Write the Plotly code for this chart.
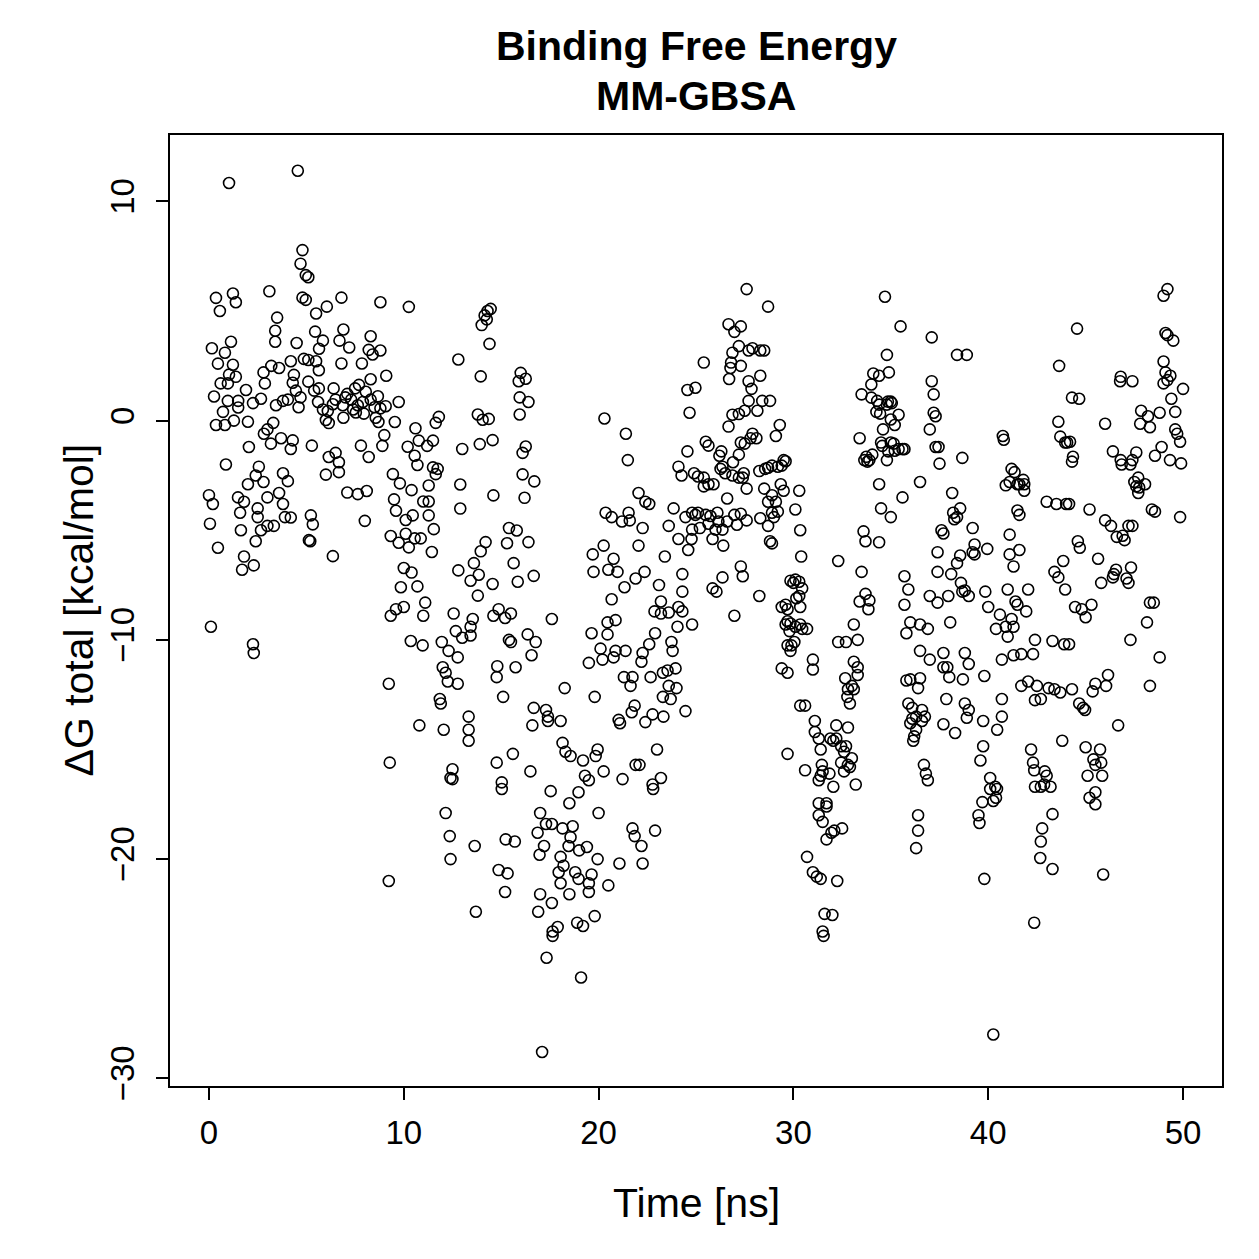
import plotly.graph_objects as go

# ---- data: (time [ns], dG total [kcal/mol]), grouped by time window ----
block_00_10 = [
    (1.03, 10.84), (0.36, 5.6), (1.23, 5.8), (1.38, 5.4), (0.56, 5.0), (3.1, 5.9), (3.5, 4.7), (3.4, 4.1),
    (3.4, 3.6), (1.13, 3.6), (0.15, 3.3), (0.82, 3.1), (0.46, 2.6), (1.23, 2.55), (3.2, 2.5), (2.8, 2.2),
    (3.6, 2.4), (1.03, 2.1), (1.38, 2.0), (0.6, 1.7), (0.97, 1.7), (2.87, 1.7), (1.9, 1.4), (0.26, 1.1),
    (0.97, 0.9), (1.5, 0.9), (1.5, 0.6), (2.26, 0.8), (2.67, 1.0), (3.44, 0.7), (3.8, 0.9), (0.72, 0.4),
    (0.36, -0.2), (0.82, -0.2), (1.28, 0.0), (2.0, -0.05), (3.3, -0.1), (2.82, -0.6), (3.0, -0.4),
    (3.18, -1.05), (3.7, -0.8), (2.05, -1.2), (0.87, -2.0), (2.56, -2.1), (2.4, -2.5), (2.8, -2.8),
    (2.0, -2.9), (3.8, -2.4), (0.0, -3.4), (0.2, -3.8), (1.49, -3.5), (1.8, -3.7), (2.5, -4.0), (3.0, -3.5),
    (3.6, -3.3), (3.8, -3.8), (0.05, -4.7), (1.6, -4.2), (2.5, -4.4), (1.64, -5.0), (2.67, -5.0),
    (3.0, -4.8), (3.33, -4.8), (0.46, -5.8), (2.4, -5.5), (1.8, -6.2), (1.7, -6.8), (2.3, -6.6),
    (0.1, -9.4), (2.26, -10.2), (2.3, -10.6),
    (4.56, 11.4), (4.8, 7.78), (4.7, 7.16), (4.97, 6.64), (5.1, 6.54), (4.8, 5.61), (4.97, 5.51),
    (6.8, 5.61), (6.05, 5.2), (5.5, 4.89), (5.45, 4.06), (5.85, 3.65), (5.65, 3.28), (4.5, 3.54),
    (6.9, 4.16), (6.7, 3.65), (7.2, 3.34), (8.3, 3.85), (8.2, 3.23), (8.4, 3.02), (4.87, 2.82),
    (5.1, 2.77), (4.2, 2.71), (5.5, 2.71), (6.8, 2.61), (7.85, 2.61), (8.3, 1.89), (5.64, 2.3),
    (4.36, 2.09), (4.3, 1.73), (5.1, 1.78), (5.4, 1.37), (5.64, 1.47), (4.46, 1.37), (4.7, 1.06),
    (4.6, 0.61), (4.05, 0.96), (5.6, 0.85), (6.4, 1.47), (6.5, 0.96), (7.1, 1.22), (7.5, 1.47),
    (7.7, 1.63), (8.05, 1.32), (8.3, 0.96), (5.85, 0.51), (6.1, 0.44), (6.36, 0.75), (6.0, 0.03),
    (6.15, -0.11), (6.87, 0.7), (7.0, 1.06), (7.3, 0.96), (7.4, 0.51), (7.64, 0.7), (7.9, 0.85),
    (7.54, 0.37), (6.9, 0.13), (7.95, 0.32), (8.5, 0.61), (8.56, 0.13), (4.3, -0.9), (4.2, -1.29),
    (5.28, -1.14), (6.15, -1.66), (6.5, -1.47), (6.67, -1.9), (6.0, -2.46), (6.67, -2.35), (7.8, -1.14),
    (8.2, -1.66), (7.1, -3.28), (7.64, -3.35), (8.1, -3.21), (4.05, -2.76), (4.2, -4.42), (5.23, -4.32),
    (5.33, -4.73), (5.13, -5.45), (8.0, -4.57), (6.36, -6.18), (3.9, -4.4), (5.2, -5.5),
    (8.8, 5.4), (8.8, 3.2), (9.1, 2.05), (8.67, 1.11), (9.07, 0.66), (9.74, 0.85), (8.8, 0.56),
    (8.7, -0.06), (9.54, -0.06), (8.9, -1.15), (9.0, -0.66), (9.44, -2.44), (9.8, -2.86), (9.5, -3.59),
    (9.6, -4.11), (9.33, -5.26), (9.74, -5.57), (9.85, -7.6), (9.33, -8.9), (9.6, -8.6), (9.23, -12.0),
    (9.28, -15.6), (9.23, -21.0),
]

block_10_20 = [
    (10.26, 5.19), (12.8, 2.79), (11.8, 0.17), (11.64, -0.1), (10.6, -0.35), (10.77, -0.91), (11.5, -0.91),
    (11.2, -1.15), (10.2, -1.19), (10.56, -1.6), (10.7, -2.02), (13.0, -1.29), (11.5, -2.13), (11.74, -2.2),
    (11.64, -2.44), (11.28, -2.96), (12.9, -2.91), (10.4, -3.17), (10.1, -4.53), (10.46, -4.32),
    (11.28, -3.69), (11.0, -3.69), (11.28, -4.32), (11.54, -4.95), (12.9, -4.01), (10.1, -5.16),
    (10.26, -5.78), (10.87, -5.37), (10.56, -5.37), (11.44, -5.99), (10.0, -6.72), (10.4, -6.93),
    (10.7, -7.56), (12.8, -6.83),
    (10.0, -8.5), (11.0, -8.9), (11.1, -8.3), (12.56, -8.8), (12.67, -9.6), (13.0, -9.9), (10.36, -10.05),
    (10.97, -10.25), (11.95, -10.1), (12.3, -10.5), (12.77, -10.8), (12.0, -11.25), (12.15, -11.5),
    (12.26, -11.9), (12.77, -12.0), (11.85, -12.7), (11.9, -12.9), (10.8, -13.9), (12.05, -14.1),
    (12.5, -15.9), (12.4, -16.3), (12.5, -16.35), (12.15, -17.9), (12.36, -18.95), (12.4, -20.0),
    (14.3, 5.0), (14.46, 5.1), (14.15, 4.8), (14.26, 4.62), (14.0, 4.36), (14.4, 3.5), (13.95, 2.02),
    (16.0, 2.18), (15.9, 1.8), (16.26, 1.91), (15.95, 1.06), (16.4, 0.85), (15.95, 0.28), (13.8, 0.28),
    (14.05, 0.04), (14.36, 0.08), (13.9, -1.07), (14.56, -0.89), (16.26, -1.18), (16.1, -1.47),
    (16.1, -2.45), (16.7, -2.77), (14.6, -3.41), (16.2, -3.52), (15.4, -4.9), (15.8, -5.01),
    (15.3, -5.59), (16.4, -5.54), (14.2, -5.54), (13.95, -5.96), (13.6, -6.5), (13.43, -7.3),
    (13.85, -7.03), (14.56, -7.45), (13.8, -7.98), (15.64, -6.5), (15.85, -7.35), (16.67, -7.08),
    (14.87, -8.6), (14.6, -8.9), (15.2, -9.0), (15.5, -8.8), (13.54, -9.05), (13.43, -9.4), (13.43, -9.8),
    (17.6, -9.05), (15.4, -10.0), (15.5, -10.1), (16.36, -9.75), (16.77, -10.1), (16.56, -10.7),
    (14.8, -11.2), (14.77, -11.7), (15.74, -11.25), (15.1, -12.6), (13.33, -13.5), (13.33, -14.1),
    (13.33, -14.6), (16.67, -13.1), (16.6, -13.9), (17.3, -13.2), (17.4, -13.5), (17.4, -13.7),
    (15.6, -15.2), (14.77, -15.6), (16.5, -16.0), (15.03, -16.5), (15.03, -16.8), (17.54, -16.9),
    (17.0, -17.9), (17.3, -18.4), (17.6, -18.4), (16.87, -18.8), (17.2, -19.4), (16.97, -19.8),
    (13.64, -19.4), (15.23, -19.1), (15.7, -19.2), (14.87, -20.5), (15.33, -20.65), (15.2, -21.5),
    (17.0, -21.6), (16.9, -22.4), (17.6, -22.0), (13.7, -22.4), (17.64, -23.3), (17.64, -23.5),
    (17.33, -24.5), (17.1, -28.8),
    (19.7, -6.1), (19.74, -6.9), (19.64, -9.7), (19.5, -11.05), (18.26, -12.2), (19.8, -12.6),
    (18.05, -13.7), (18.15, -14.7), (18.3, -15.1), (18.56, -15.3), (19.2, -15.5), (19.95, -15.0),
    (19.85, -15.3), (19.3, -16.2), (19.5, -16.4), (18.97, -16.95), (18.5, -17.45), (18.15, -18.6),
    (18.67, -18.5), (18.56, -19.0), (18.46, -19.4), (19.0, -19.6), (19.4, -19.45), (19.95, -20.0),
    (18.05, -19.9), (18.2, -20.3), (17.95, -20.6), (18.05, -21.1), (18.8, -20.6), (18.97, -20.9),
    (19.5, -21.1), (19.5, -21.5), (18.5, -21.6), (19.64, -20.7), (17.9, -23.1), (18.9, -22.9),
    (19.2, -23.05), (19.8, -22.6), (19.1, -25.4),
]

block_20_30 = [
    (20.3, 0.1), (21.4, -0.6), (21.5, -1.8), (22.05, -3.3), (22.4, -3.7), (20.36, -4.2), (20.67, -4.4),
    (21.2, -4.6), (21.54, -4.2), (21.6, -4.55), (22.26, -4.9), (22.05, -5.7), (20.26, -5.7), (20.77, -6.3),
    (20.5, -6.8), (20.97, -6.9), (21.9, -7.2), (22.36, -6.9), (21.33, -7.6), (20.67, -8.15), (20.87, -9.1),
    (20.46, -9.2), (20.46, -9.75), (20.1, -10.4), (20.87, -10.5), (21.38, -10.5), (20.2, -10.9),
    (20.77, -10.8), (22.26, -10.6), (22.2, -11.0), (21.3, -11.7), (21.74, -11.7), (21.64, -12.1),
    (21.85, -13.0), (21.7, -13.3), (21.03, -13.65), (21.1, -13.8), (22.4, -13.75), (20.26, -16.0),
    (20.0, -17.9), (21.23, -16.35), (21.9, -15.7), (22.1, -15.7), (21.74, -18.6), (21.85, -18.95),
    (22.2, -19.4), (22.26, -20.2), (21.07, -20.2), (20.5, -21.2),
    (26.67, 4.4), (26.97, 4.05), (25.4, 2.65), (26.87, 3.1), (26.8, 2.65), (26.77, 2.4), (26.7, 1.9),
    (24.56, 1.4), (24.97, 1.5), (24.67, 0.36), (26.87, 0.27), (26.67, -0.27), (25.5, -0.96),
    (25.64, -1.14), (26.3, -1.4), (26.2, -1.6), (24.56, -1.4), (26.9, -1.9), (24.1, -2.1), (24.26, -2.5),
    (24.9, -2.4), (25.1, -2.55), (25.4, -2.6), (25.64, -2.9), (25.4, -3.0), (25.9, -2.9), (26.26, -2.2),
    (26.36, -2.1), (26.5, -2.4), (26.87, -2.5), (26.6, -3.55), (22.6, -3.8), (23.85, -4.0), (24.8, -4.2),
    (24.97, -4.3), (25.1, -4.2), (25.5, -4.3), (25.74, -4.35), (26.1, -4.2), (26.97, -4.3), (24.46, -4.4),
    (24.8, -4.97), (25.2, -4.9), (25.64, -4.7), (26.0, -4.97), (26.15, -4.6), (26.36, -4.97), (26.6, -4.6),
    (26.4, -5.7), (23.6, -4.8), (24.1, -5.4), (24.77, -5.4), (25.85, -5.4), (24.6, -5.9), (23.4, -6.2),
    (24.3, -7.0), (24.3, -7.8), (23.1, -7.5), (25.85, -7.65), (26.05, -7.8), (26.36, -7.15),
    (26.97, -8.9), (23.2, -8.25), (22.87, -8.7), (23.2, -8.8), (23.6, -8.75), (24.1, -8.5), (24.3, -8.7),
    (24.05, -9.4), (24.8, -9.3), (22.9, -9.7), (23.74, -10.1), (23.8, -10.5), (22.6, -10.2),
    (22.67, -11.7), (23.3, -11.5), (23.54, -11.4), (23.95, -11.3), (23.6, -12.1), (24.0, -12.2),
    (23.3, -12.6), (23.7, -12.7), (24.46, -13.25), (22.77, -13.4), (23.33, -13.5), (23.0, -15.0),
    (23.2, -16.3), (22.77, -16.6), (22.8, -16.8), (22.9, -18.7),
    (27.2, 3.4), (27.6, 6.0), (27.3, 4.3), (27.7, 3.2), (27.9, 3.3), (28.3, 3.2), (28.5, 3.2), (28.7, 5.2),
    (27.3, 2.5), (27.7, 1.8), (27.85, 1.45), (28.3, 2.05), (28.4, 0.9), (27.7, 0.9), (27.2, 0.3),
    (27.5, 0.45), (27.9, -0.6), (27.8, -0.8), (27.5, -1.05), (27.3, -1.0), (27.2, -1.55), (28.15, 0.45),
    (28.1, -0.8), (28.8, 0.9), (29.3, -0.2), (29.1, -0.7), (28.9, -2.05), (29.2, -2.1), (29.4, -2.05),
    (29.5, -1.8), (29.6, -1.85), (28.55, -2.2), (28.7, -2.15), (28.25, -2.3), (27.4, -2.6), (27.2, -2.6),
    (27.45, -2.4), (27.6, -3.1), (28.5, -3.1), (28.7, -3.7), (28.9, -3.4), (29.1, -3.7), (29.35, -2.9),
    (29.5, -3.2), (28.9, -4.2), (29.2, -4.15), (28.3, -4.45), (29.0, -4.4), (27.6, -4.55), (27.3, -4.25),
    (27.1, -4.75), (28.7, -4.8), (28.8, -5.5), (27.3, -6.65), (27.4, -7.1), (28.25, -8.0), (28.9, -5.6),
    (29.85, -7.3), (29.6, -8.4), (29.4, -8.5), (29.7, -8.6), (29.7, -9.15), (29.6, -9.3), (29.85, -9.25),
    (29.8, -9.6), (29.7, -10.25), (29.9, -10.25), (29.4, -11.3), (29.7, -11.5), (29.85, -10.5),
    (29.7, -15.2),
]

block_30_40 = [
    (30.3, -3.2), (30.1, -4.05), (30.4, -6.2), (30.35, -5.0), (30.1, -7.25), (30.0, -7.4), (30.3, -7.35),
    (30.3, -8.0), (30.45, -7.65), (30.15, -8.1), (30.35, -8.5), (30.1, -9.4), (30.05, -10.1), (30.45, -9.5),
    (30.35, -9.3), (30.7, -9.5), (30.35, -13.0), (30.6, -13.0), (30.6, -15.95), (31.0, -10.9),
    (31.0, -11.35), (31.1, -13.7), (31.1, -14.2), (30.7, -19.9), (31.0, -20.6), (31.2, -20.8),
    (31.4, -20.9), (31.6, -22.5), (32.0, -22.55), (31.5, -23.3), (31.55, -23.5),
    (31.3, -14.5), (31.4, -15.0), (31.46, -15.7), (31.5, -16.0), (31.4, -16.2), (31.3, -16.4),
    (31.3, -17.45), (31.3, -18.0), (31.7, -17.45), (31.7, -17.6), (31.5, -18.3), (31.7, -19.1),
    (31.95, -18.8), (32.1, -18.7), (32.05, -16.7), (31.85, -16.1), (31.9, -14.5), (32.05, -14.6),
    (32.2, -14.5), (32.2, -13.9), (32.45, -14.85), (32.6, -15.1), (32.45, -15.6), (32.6, -16.0),
    (32.9, -15.8), (32.8, -15.7), (33.0, -15.4), (32.7, -14.85), (32.25, -21.0), (32.3, -10.1),
    (32.3, -6.4), (32.5, -18.6), (32.8, -14.0), (32.77, -12.6), (32.8, -12.25), (32.9, -12.9),
    (32.66, -11.75), (32.7, -10.1), (33.0, -12.1), (33.1, -12.25), (33.1, -11.0), (33.3, -11.25),
    (33.3, -11.6), (33.3, -10.0), (33.2, -16.6), (33.1, -9.3), (33.4, -0.8), (33.5, 1.2), (33.6, -5.05),
    (33.5, -6.9), (33.7, -5.5), (33.4, -8.25), (33.7, -7.9), (33.9, -8.2), (33.85, -8.6), (33.64, -1.8),
    (33.74, -1.65), (33.8, -1.87), (33.9, -1.8), (34.05, -1.55), (34.0, 1.05), (34.0, 1.65), (34.1, 2.15),
    (34.4, 2.05), (34.3, 0.9), (34.26, 0.4), (34.4, 0.73), (34.45, 0.32), (34.8, 0.73), (34.85, 0.87),
    (34.7, 5.65), (34.8, 3.0), (34.9, 2.2), (34.6, -0.4), (35.0, 0.05), (35.2, -0.2), (35.0, 0.87),
    (35.05, 0.8), (34.5, -1.0), (34.56, -1.15), (35.0, -1.0), (35.15, -1.05), (35.4, 0.27), (35.4, -1.3),
    (35.5, 4.3), (34.87, -1.4), (34.8, -1.8), (35.2, -1.37), (35.6, -1.3), (35.7, -1.3), (34.5, -4.0),
    (35.0, -4.4), (35.6, -3.5), (34.4, -2.9), (34.4, -5.55),
    (35.7, -7.1), (35.9, -7.7), (35.7, -8.4), (35.8, -9.7), (36.0, -9.2), (35.8, -11.85), (36.0, -11.8),
    (35.9, -12.9), (36.1, -13.1), (36.1, -13.6), (36.0, -13.8), (36.2, -14.4), (36.15, -14.6),
    (36.3, -13.5), (36.3, -14.1), (36.5, -11.75), (36.4, -12.2), (36.4, -18.0), (36.4, -18.7),
    (36.3, -19.5), (36.5, -10.5), (36.5, -9.3), (36.5, -2.8), (36.9, -9.5), (36.6, -13.2), (36.6, -13.7),
    (36.75, -13.5), (36.7, -15.7), (36.8, -16.1), (36.9, -16.4), (37.0, -10.9), (37.0, -0.4), (37.1, 1.8),
    (37.2, 1.2), (37.2, 0.36), (37.3, 0.2), (37.1, 3.8), (37.3, -1.2), (37.45, -1.2), (37.5, -1.96),
    (37.4, -6.0), (37.6, -5.0), (37.7, -5.15), (37.4, -6.9), (37.4, -8.3), (37.0, -8.0), (37.7, -10.6),
    (37.7, -11.25), (37.9, -11.25), (37.85, -12.7), (38.05, -9.2), (37.95, -8.0), (38.1, -7.0),
    (37.7, -13.85), (38.0, -11.7), (38.15, -3.3), (38.2, -4.2), (38.26, -4.5), (38.4, -4.4), (38.56, -4.0),
    (38.3, -14.25), (38.4, -6.5), (38.4, 3.0), (38.9, 3.0), (38.56, -6.15), (38.6, -7.4), (38.67, -7.8),
    (38.8, -7.75), (39.0, -8.0), (38.67, -1.7), (38.8, -10.6), (38.7, -11.8), (39.0, -11.1), (38.8, -12.9),
    (38.9, -13.55), (39.0, -13.2), (39.2, -4.9), (39.2, -6.0), (39.3, -6.1), (39.3, -5.65), (39.5, -18.0),
    (39.55, -18.35), (39.6, -15.5), (39.74, -14.85), (39.7, -17.4), (39.8, -11.65), (39.74, -13.7),
    (39.8, -20.9), (39.95, -5.85), (39.85, -7.8),
]

block_40_50 = [
    (40.0, -8.5), (40.1, -16.3), (40.1, -16.8), (40.26, -17.35), (40.36, -16.7), (40.45, -16.8),
    (40.4, -17.2), (40.26, -28.0), (40.46, -14.1), (40.7, -13.5), (40.7, -12.7), (40.9, -9.4),
    (40.7, -10.9), (40.4, -9.5), (40.6, -8.85), (40.8, -0.87), (40.75, -0.7), (41.0, -7.7), (41.0, -9.85),
    (41.2, -9.05), (41.3, -9.4), (41.1, -6.1), (41.1, -5.2), (41.1, -2.8), (41.3, -6.65), (41.4, -8.25),
    (41.5, -8.4), (41.5, -4.1), (41.6, -4.3), (41.2, -2.2), (41.35, -2.35), (41.5, -2.9), (41.6, -2.9),
    (41.8, -2.7), (41.85, -2.9), (41.85, -3.2), (40.9, -2.95), (41.6, -5.9), (41.3, -10.7), (41.7, -10.65),
    (41.95, -8.7), (42.05, -7.7), (41.7, -12.1), (42.05, -11.9), (42.4, -10.0), (42.3, -10.65),
    (42.2, -15.0), (42.3, -15.6), (42.36, -15.95), (42.4, -12.75), (42.7, -12.7), (42.5, -12.1),
    (42.7, -16.7), (42.4, -16.7), (42.77, -18.6), (42.7, -19.2), (42.67, -19.95), (42.36, -22.9),
    (42.9, -16.0), (43.0, -16.2), (42.87, -16.6), (43.2, -16.7), (43.3, -20.45), (43.3, -17.95),
    (43.3, -10.05), (43.1, -12.2), (43.4, -12.25), (43.7, -12.4), (43.4, -6.9), (43.6, -7.15), (43.0, -3.7),
    (43.5, -3.8), (43.6, -0.05), (43.7, -0.73), (43.95, -1.0), (44.05, -1.0), (44.2, -0.96), (44.3, -1.87),
    (44.35, -1.65), (44.3, 1.05), (44.56, 4.2), (43.64, 2.5), (44.0, -3.8), (44.15, -3.8), (43.85, -6.4),
    (43.95, -7.7), (43.9, -10.2), (44.15, -10.2), (43.8, -14.6), (44.3, -12.25), (44.46, -8.5),
    (44.6, -5.5), (44.7, -5.8), (44.67, -12.9), (44.87, -13.1), (44.97, -13.2), (44.67, 1.0), (44.8, -8.6),
    (45.0, -8.97),
    (45.2, -4.05), (45.0, -14.9), (45.1, -16.2), (45.2, -17.2), (45.3, -8.4), (45.36, -12.35), (45.5, -12.0),
    (45.4, -15.45), (45.5, -15.7), (45.5, -16.95), (45.5, -17.5), (45.64, -6.3), (45.8, -7.4), (45.74, -15.0),
    (45.8, -15.6), (45.85, -16.2), (45.9, -20.7), (46.0, -4.55), (46.0, -0.14), (46.05, -12.1),
    (46.15, -11.6), (46.3, -4.8), (46.4, -7.15), (46.45, -7.0), (46.56, -6.8), (46.4, -1.4), (46.6, -5.3),
    (46.67, -13.9), (46.77, 1.8), (46.8, 2.0), (46.8, -1.8), (46.85, -2.0), (46.9, -5.25), (47.0, -5.45),
    (47.1, -7.2), (47.2, -7.4), (47.3, -2.0), (47.2, -4.8), (47.3, -10.0), (47.33, -6.7), (47.4, -4.8),
    (47.5, -2.8), (47.4, -1.8), (47.4, 1.8), (47.6, -1.45), (47.6, -3.0), (47.7, -3.3), (47.7, -2.6),
    (47.75, -3.05), (47.8, -0.14), (47.85, 0.45), (48.05, -2.9), (48.2, 0.2), (48.15, -9.2), (48.3, -8.3),
    (48.3, -12.1), (48.4, -4.05), (48.56, -4.15), (48.5, -8.3), (48.3, -0.3), (48.56, -1.6), (48.8, 0.36),
    (48.8, -10.8), (48.9, -1.2), (49.0, 1.7), (49.0, 2.7), (49.0, 5.7), (49.1, 4.0), (49.2, 3.9),
    (49.2, 6.0), (49.1, 2.2), (49.2, 1.85), (49.35, 2.05), (49.4, 1.0), (49.5, 3.65), (49.6, 0.4),
    (49.33, -1.8), (49.6, -0.4), (49.7, -0.6), (49.85, -0.96), (49.9, -1.95), (50.0, 1.45), (49.85, -4.4),
]

x_tick_vals = [0, 10, 20, 30, 40, 50]
x_tick_text = ["0", "10", "20", "30", "40", "50"]
y_tick_vals = [-30, -20, -10, 0, 10]
y_tick_text = ["\u221230", "\u221220", "\u221210", "0", "10"]

title_line1 = "Binding Free Energy"
title_line2 = "MM-GBSA"
x_label = "Time [ns]"
y_label = "ΔG total [kcal/mol]"

# ---- assemble ----
pairs = block_00_10 + block_10_20 + block_20_30 + block_30_40 + block_40_50
time_ns = [p[0] for p in pairs]
dg_total = [p[1] for p in pairs]

FONT = "Liberation Sans, Arial, Helvetica, sans-serif"
W = H = 1259
L, R, T, B = 170, 1259 - 1222, 135, 1259 - 1086
plot_w = W - L - R
plot_h = H - T - B

fig = go.Figure(
    go.Scatter(
        x=time_ns, y=dg_total, mode="markers",
        marker=dict(symbol="circle-open", size=11, color="black", line=dict(width=1.6)),
        showlegend=False, hoverinfo="skip",
    )
)

axis_common = dict(
    showgrid=False, zeroline=False, showline=True, linecolor="black", linewidth=2, mirror=True,
    ticks="outside", ticklen=12, tickwidth=2, tickcolor="black",
    tickfont=dict(family=FONT, size=33, color="black"),
)
fig.update_xaxes(range=[-2, 52], tickmode="array", tickvals=x_tick_vals, ticktext=x_tick_text,
                 ticklabelstandoff=4, **axis_common)
fig.update_yaxes(range=[-30.35, 13.03], tickmode="array", tickvals=y_tick_vals, ticktext=y_tick_text,
                 tickangle=-90, ticklabelstandoff=9, **axis_common)

def py(pix_y):
    return (H - B - pix_y) / plot_h

def px(pix_x):
    return (pix_x - L) / plot_w

annotations = [
    dict(text="<b>%s</b>" % title_line1, x=0.5, y=py(46), xref="paper", yref="paper",
         xanchor="center", yanchor="middle", showarrow=False, font=dict(family=FONT, size=41, color="black")),
    dict(text="<b>%s</b>" % title_line2, x=0.5, y=py(96), xref="paper", yref="paper",
         xanchor="center", yanchor="middle", showarrow=False, font=dict(family=FONT, size=41, color="black")),
    dict(text=x_label, x=0.5, y=py(1203), xref="paper", yref="paper",
         xanchor="center", yanchor="middle", showarrow=False, font=dict(family=FONT, size=41, color="black")),
    dict(text=y_label, x=px(78), y=0.5, xref="paper", yref="paper", textangle=-90,
         xanchor="center", yanchor="middle", showarrow=False, font=dict(family=FONT, size=41, color="black")),
]

fig.update_layout(
    width=W, height=H, autosize=False,
    margin=dict(l=L, r=R, t=T, b=B, pad=0),
    paper_bgcolor="white", plot_bgcolor="white",
    annotations=annotations,
)

fig.write_html("out.html")
